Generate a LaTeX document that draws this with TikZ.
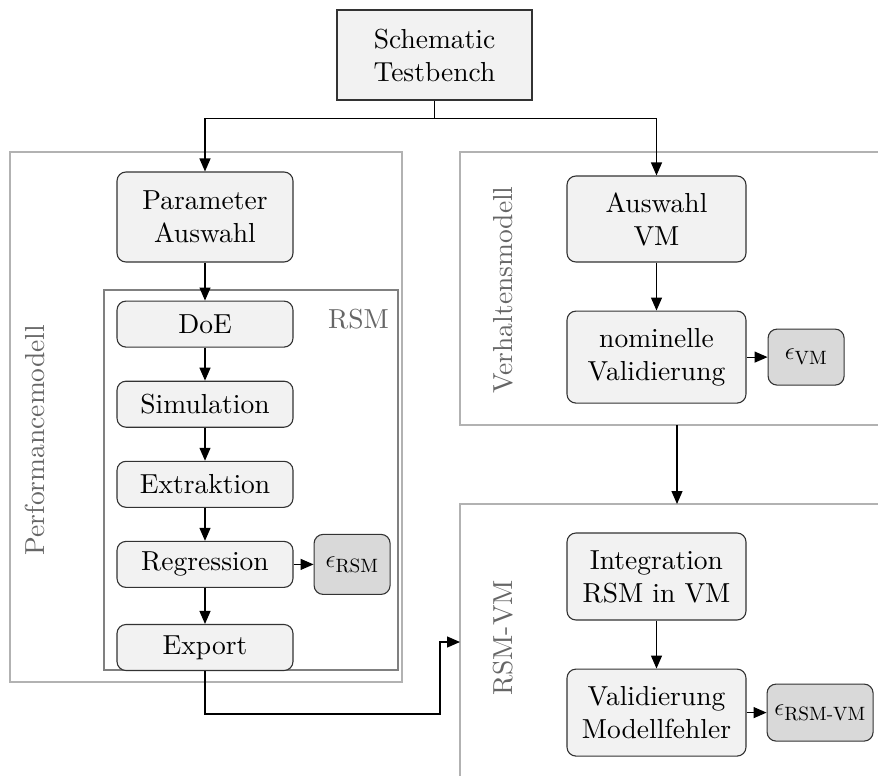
\documentclass[tikz,border=0pt]{standalone}
\usepackage{amsmath}
\usepackage{fontspec}
\setmainfont{lmroman10-regular.otf}
\usetikzlibrary{arrows.meta, positioning}

\begin{document}
\begin{tikzpicture}[
    x=1pt, y=-1pt,
    node distance=33pt and 20pt,
    every node/.style={font=\fontsize{27.5}{33}\selectfont},
    topbox/.style={rectangle, minimum width=195pt, minimum height=90pt, align=center, draw=black!80, fill=black!5, line width=1.1pt, inner sep=2pt},
    block/.style={rectangle, rounded corners=9pt, minimum width=176pt, minimum height=46pt, align=center, draw=black!80, fill=black!5, line width=1.1pt, inner sep=2pt},
    wideblock/.style={block, minimum width=179pt},
    errbox/.style={rectangle, rounded corners=9pt, minimum width=76pt, minimum height=60pt, align=center, draw=black!80, fill=black!15, line width=1.1pt, inner sep=2pt},
    frame/.style={rectangle, draw=black!30, line width=1.2pt, inner sep=0pt, outer sep=0pt},
    labeltext/.style={text=black!60, inner sep=0pt},
    arrow/.style={-{Triangle[length=13pt,width=11pt]}, line width=1.2pt}
]
\clip (0,0) rectangle (878,776);

% Rahmen
\node[frame, minimum width=392pt, minimum height=530pt] (perf) at (206,417) {};
\node[frame, draw=black!50, minimum width=294pt, minimum height=380pt] (rsm) at (251,480) {};
\node[frame, minimum width=434pt, minimum height=273pt] (verh) at (677,288.5) {};
\node[frame, minimum width=434pt, minimum height=316pt] (rsmvm) at (677,662) {};

\node[labeltext, rotate=90] (perflabel) at (35,440) {Performancemodell};
\node[labeltext, anchor=base east] (rsmlabel) at ([xshift=-9pt,yshift=-38pt]rsm.north east) {RSM};
\node[labeltext, rotate=90] (verhlabel) at (503,290) {Verhaltensmodell};
\node[labeltext, rotate=90] (rsmvmlabel) at (503,638) {RSM-VM};

% Knoten
\node[topbox] (tb) at (434.5,55) {Schematic\\Testbench};

\node[block, minimum height=90pt] (par) at (205,217) {Parameter\\Auswahl};
\node[block, below=38pt of par] (doe) {DoE};
\node[block, below=of doe] (sim) {Simulation};
\node[block, below=of sim] (ext) {Extraktion};
\node[block, below=of ext] (reg) {Regression};
\node[block, below=36pt of reg] (exp) {Export};
\node[errbox, right=of reg] (ersm) {$\epsilon_{\text{RSM}}$};

\node[wideblock, minimum height=86pt] (av) at (656.5,219) {Auswahl\\VM};
\node[wideblock, minimum height=92pt, below=48pt of av] (nom) {nominelle\\Validierung};
\node[errbox, minimum height=56pt, right=21pt of nom] (evm) {$\epsilon_{\text{VM}}$};

\node[wideblock, minimum height=87pt] (int) at (656.5,576.5) {Integration\\RSM in VM};
\node[wideblock, minimum height=87pt, below=48pt of int] (val) {Validierung\\Modellfehler};
\node[errbox, minimum width=106pt, minimum height=57pt, right=20pt of val] (erv) {$\epsilon_{\text{RSM-VM}}$};

\coordinate (einl) at ([yshift=20pt]rsmvm.west);

% Verbindungen
\draw[line width=1.2pt] (tb.south) -- ++(0,18) coordinate (split);
\draw[arrow] (split) -| (par.north);
\draw[arrow] (split) -| (av.north);
\draw[arrow] (par) -- (doe);
\draw[arrow] (doe) -- (sim);
\draw[arrow] (sim) -- (ext);
\draw[arrow] (ext) -- (reg);
\draw[arrow] (reg) -- (exp);
\draw[arrow] (reg) -- (ersm);
\draw[arrow] (av) -- (nom);
\draw[arrow] (nom) -- (evm);
\draw[arrow] (verh.south) -- (rsmvm.north);
\draw[arrow] (int) -- (val);
\draw[arrow] (val) -- (erv);
\draw[arrow] (exp.south) -- ++(0,43) -| ([xshift=-20pt]einl) -- (einl);
\end{tikzpicture}
\end{document}
